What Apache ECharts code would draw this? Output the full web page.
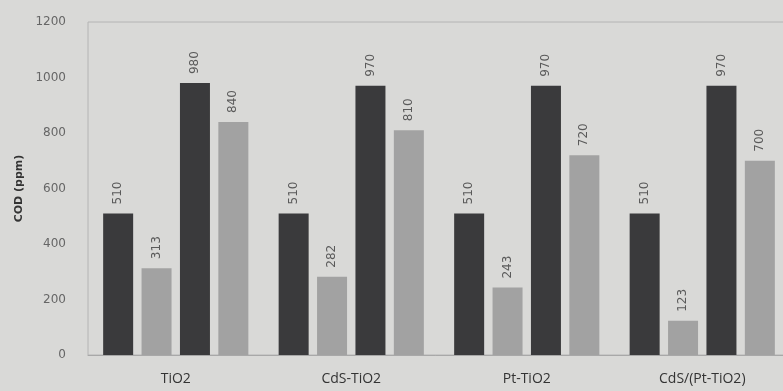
<!DOCTYPE html>
<html>
<head>
<meta charset="utf-8">
<script src="https://cdn.jsdelivr.net/npm/echarts@6/dist/echarts.min.js"></script>
<style>
html,body{margin:0;padding:0;background:#d9d9d7;}
#c{width:783px;height:391px;}
</style>
</head>
<body>
<div id="c"></div>
<script>
var categories = ['TiO2', 'CdS-TiO2', 'Pt-TiO2', 'CdS/(Pt-TiO2)'];
var series1 = [510, 510, 510, 510];
var series2 = [313, 282, 243, 123];
var series3 = [980, 970, 970, 970];
var series4 = [840, 810, 720, 700];
var yTicks = [0, 200, 400, 600, 800, 1000, 1200];

var chart = echarts.init(document.getElementById('c'));
var dark = '#3a3a3c';
var light = '#a2a2a2';
function mk(data, color) {
  return {
    type: 'bar',
    data: data,
    barWidth: 30,
    barGap: '28%',
    itemStyle: { color: color },
    label: {
      show: true,
      position: 'top',
      rotate: 90,
      align: 'left',
      verticalAlign: 'middle',
      distance: 9,
      color: '#5a5a5a',
      fontSize: 12,
      fontFamily: 'DejaVu Sans'
    }
  };
}
chart.setOption({
  backgroundColor: '#d9d9d7',
  animation: false,
  grid: { left: 88, width: 702, top: 22, bottom: 36, outerBoundsMode: 'none', show: true, borderColor: '#b4b4b4', borderWidth: 1, backgroundColor: 'transparent' },
  xAxis: {
    type: 'category',
    data: categories,
    axisTick: { show: false },
    axisLine: { lineStyle: { color: '#a8a8a8' } },
    axisLabel: { color: '#333', fontSize: 14, margin: 17, fontFamily: 'Open Sans' }
  },
  yAxis: {
    type: 'value',
    min: yTicks[0],
    max: yTicks[yTicks.length - 1],
    interval: 200,
    splitLine: { show: false },
    axisLine: { show: false },
    axisTick: { show: false },
    axisLabel: { color: '#666', fontSize: 12, margin: 22, fontFamily: 'DejaVu Sans', formatter: function (v) { return String(v); } },
    name: 'COD (ppm)',
    nameLocation: 'middle',
    nameGap: 60,
    nameRotate: 90,
    nameTextStyle: { color: '#333', fontSize: 11, fontWeight: 'bold', fontFamily: 'DejaVu Sans' }
  },
  series: [mk(series1, dark), mk(series2, light), mk(series3, dark), mk(series4, light)]
});
</script>
</body>
</html>
